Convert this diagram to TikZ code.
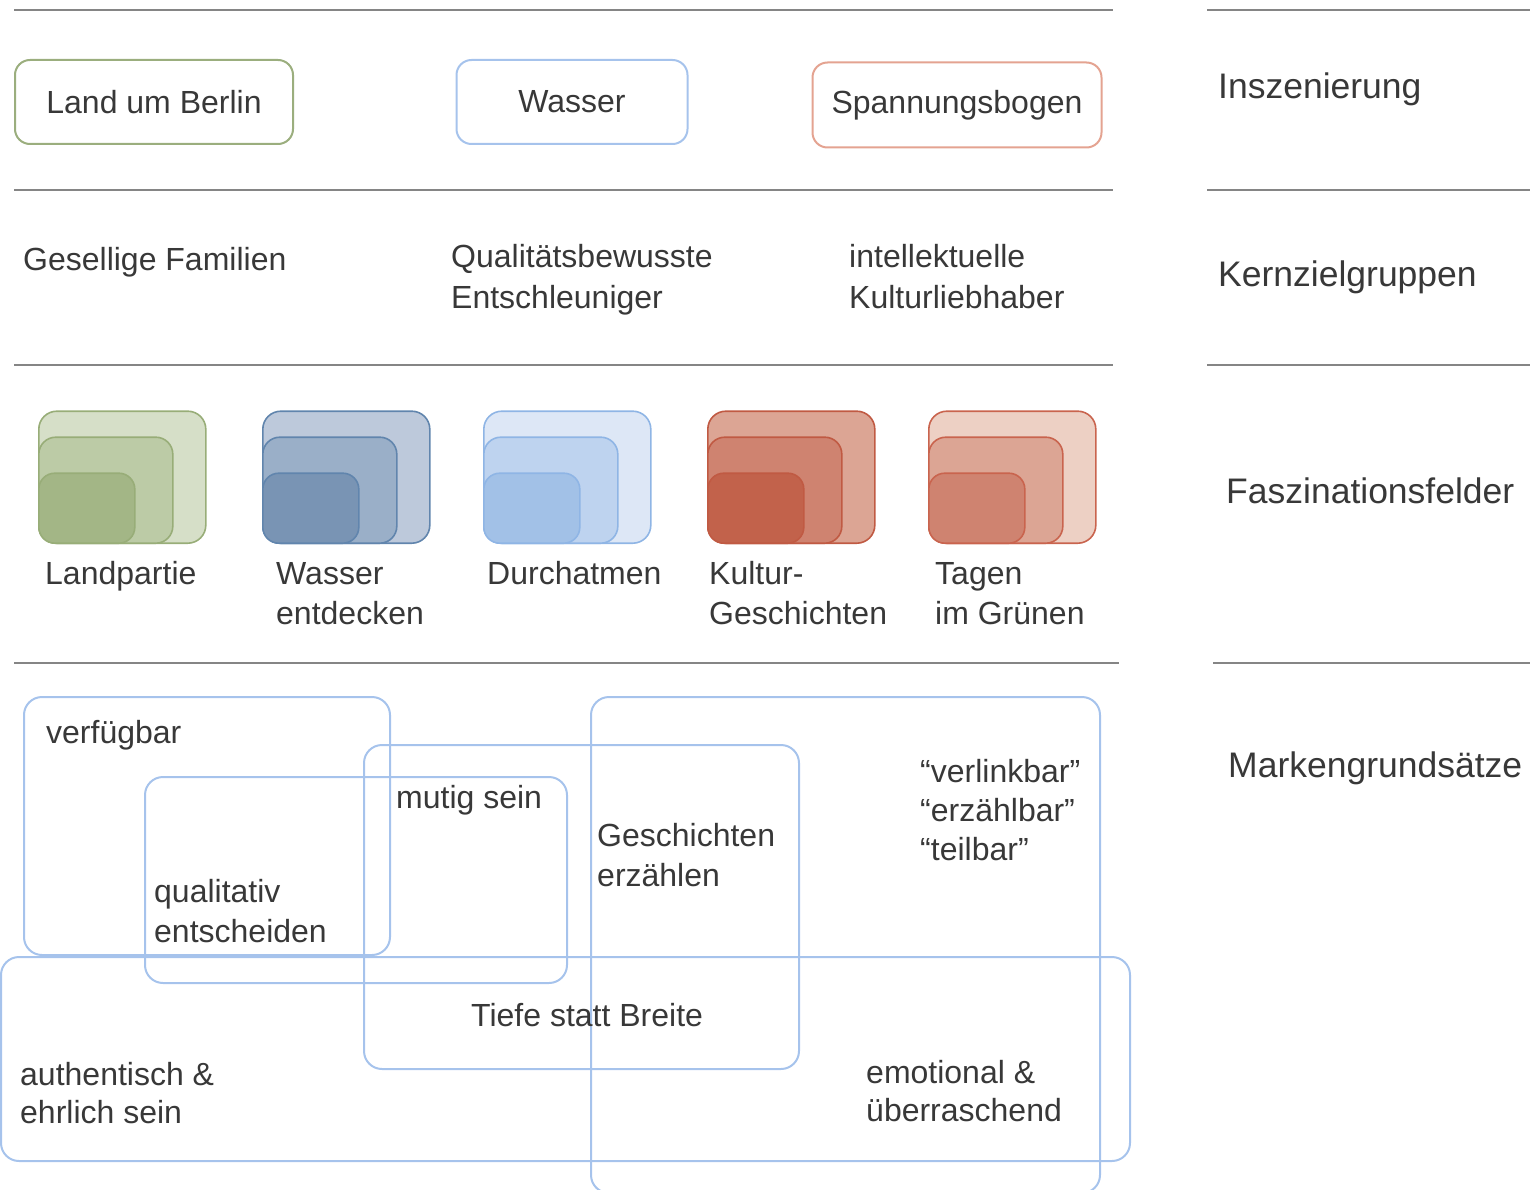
\documentclass[tikz,border=0pt]{standalone}
\usepackage{fontspec}
\setmainfont{Liberation Sans}
\usetikzlibrary{positioning}

\definecolor{textgrau}{HTML}{383838}
\definecolor{liniengrau}{HTML}{858585}
\definecolor{gruenrand}{HTML}{9BAE7E}
\definecolor{blaurand}{HTML}{A6C3EC}
\definecolor{orangerand}{HTML}{E4A391}
% Faszinationsfelder
\definecolor{gruenA}{HTML}{D6DFC8}
\definecolor{gruenB}{HTML}{BCCBA6}
\definecolor{gruenC}{HTML}{A3B686}
\definecolor{gruenS}{HTML}{98AD78}
\definecolor{dblauA}{HTML}{BDC9DB}
\definecolor{dblauB}{HTML}{9AAFC8}
\definecolor{dblauC}{HTML}{7994B4}
\definecolor{dblauS}{HTML}{6185AD}
\definecolor{hblauA}{HTML}{DDE7F6}
\definecolor{hblauB}{HTML}{BED3EF}
\definecolor{hblauC}{HTML}{A2C1E7}
\definecolor{hblauS}{HTML}{8FB5E5}
\definecolor{rotA}{HTML}{DCA594}
\definecolor{rotB}{HTML}{CF8370}
\definecolor{rotC}{HTML}{C2624B}
\definecolor{rotS}{HTML}{C05A43}
\definecolor{rosaA}{HTML}{EDD0C4}
\definecolor{rosaB}{HTML}{DCA594}
\definecolor{rosaC}{HTML}{CF8370}
\definecolor{rosaS}{HTML}{C9644E}

\begin{document}
\begin{tikzpicture}[x=1pt, y=-1pt, font=\fontsize{32}{40}\selectfont, text=textgrau,
  trenner/.style={draw=liniengrau, line width=2pt},
  kopfbox/.style={draw, line width=2pt, rounded corners=15pt},
  feld/.style={draw, line width=1.6pt, anchor=south west, inner sep=0pt},
  markenbox/.style={draw=blaurand, line width=2pt, rounded corners=18pt, inner sep=0pt},
  txt/.style={anchor=base west, align=left, inner sep=0pt},
  ebene/.style={anchor=base west, inner sep=0pt, font=\fontsize{35.5}{42}\selectfont}]

\useasboundingbox (0,0) rectangle (1530,1190);

% Trennlinien
\foreach \y/\r in {10/1113, 190/1113, 365/1113, 663/1119} {
  \draw[trenner] (14,\y) -- (\r,\y);
  \draw[trenner] (\r+94,\y) -- (1530,\y);
}

% Ebenen
\node[ebene] (inszenierung) at (1218,99) {Inszenierung};
\node[ebene] (kernzielgruppen) at (1218,286) {Kernzielgruppen};
\node[ebene] (faszination) at (1226,503) {Faszinationsfelder};
\node[ebene] (marken) at (1228,777) {Markengrundsätze};

% Inszenierung
\node[kopfbox, draw=gruenrand, minimum width=278, minimum height=84] (land) at (154,102) {Land um Berlin};
\node[kopfbox, draw=blaurand, minimum width=231, minimum height=84] (wasser) at (572,102) {Wasser};
\node[kopfbox, draw=orangerand, minimum width=289, minimum height=85] (spannung) at (957,105) {Spannungsbogen};

% Kernzielgruppen (Anker = letzte Zeile)
\node[txt] (familien) at (23,270) {Gesellige Familien};
\node[txt] (entschleuniger) at (451,308) {Qualitätsbewusste\\Entschleuniger};
\node[txt] (kultur) at (849,308) {intellektuelle\\Kulturliebhaber};

% Faszinationsfelder
\foreach \x/\nm/\fa/\fb/\fc/\st in {38/landpartie/gruenA/gruenB/gruenC/gruenS,
    262/wasserfeld/dblauA/dblauB/dblauC/dblauS,
    483/durchatmen/hblauA/hblauB/hblauC/hblauS,
    707/geschichten/rotA/rotB/rotC/rotS,
    928/gruenen/rosaA/rosaB/rosaC/rosaS} {
  \node[feld, draw=\st, fill=\fa, minimum width=167, minimum height=132, rounded corners=18pt] (\nm-a) at (\x,544) {};
  \node[feld, draw=\st, fill=\fb, minimum width=134, minimum height=106, rounded corners=17pt] (\nm-b) at (\x,544) {};
  \node[feld, draw=\st, fill=\fc, minimum width=96, minimum height=70, rounded corners=16pt] (\nm-c) at (\x,544) {};
}
\node[txt] (landpartie-text) at (45,584) {Landpartie};
\node[txt] (wasserfeld-text) at (276,624) {Wasser\\entdecken};
\node[txt] (durchatmen-text) at (487,584) {Durchatmen};
\node[txt] (geschichten-text) at (709,624) {Kultur-\\Geschichten};
\node[txt] (gruenen-text) at (935,624) {Tagen\\im Grünen};

% Markengrundsaetze
\node[markenbox, minimum width=366, minimum height=258] (verfuegbar) at (207,826) {};
\node[markenbox, minimum width=422, minimum height=206] (qualitativ) at (356,880) {};
\node[markenbox, minimum width=435, minimum height=324] (tiefe) at (581.5,907) {};
\node[markenbox, minimum width=509, minimum height=496] (erzaehlen) at (845.5,945) {};
\node[markenbox, minimum width=1129, minimum height=204] (authentisch) at (565.5,1059) {};

\node[txt] at (46,743) {verfügbar};
\node[txt] at (396,808) {mutig sein};
\node[txt] at (154,942) {qualitativ\\entscheiden};
\node[txt] at (597,886) {Geschichten\\erzählen};
\node[txt, font=\fontsize{32}{39}\selectfont] at (920,860) {“verlinkbar”\\“erzählbar”\\“teilbar”};
\node[txt] at (471,1026) {Tiefe statt Breite};
\node[txt, font=\fontsize{32}{38}\selectfont] at (20,1123) {authentisch \&\\ehrlich sein};
\node[txt, font=\fontsize{32}{38}\selectfont] at (866,1121) {emotional \&\\überraschend};

\end{tikzpicture}
\end{document}
